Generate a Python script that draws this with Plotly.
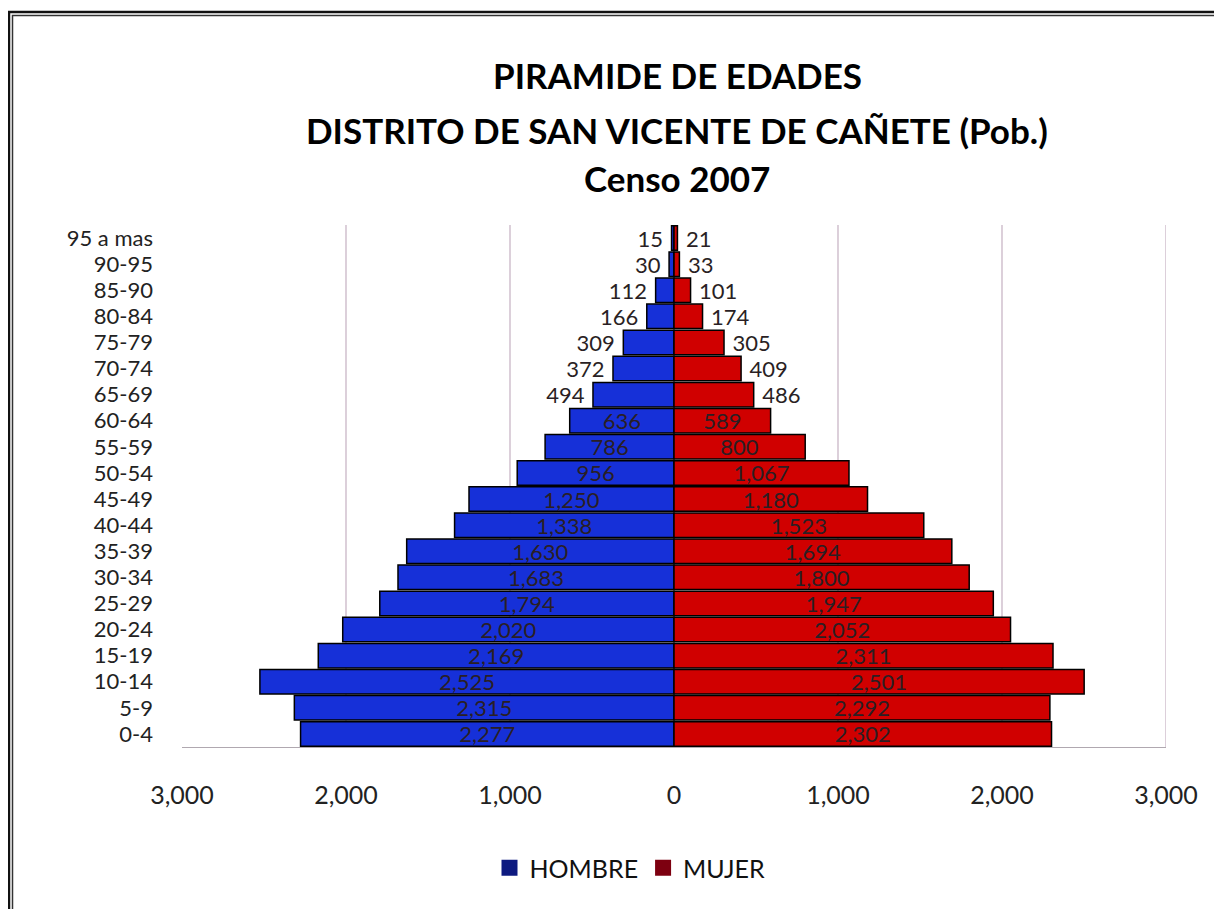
import plotly.graph_objects as go

age_groups = ["0-4", "5-9", "10-14", "15-19", "20-24", "25-29", "30-34", "35-39",
              "40-44", "45-49", "50-54", "55-59", "60-64", "65-69", "70-74", "75-79",
              "80-84", "85-90", "90-95", "95 a mas"]
hombre = [2277, 2315, 2525, 2169, 2020, 1794, 1683, 1630, 1338, 1250, 956, 786,
          636, 494, 372, 309, 166, 112, 30, 15]
mujer = [2302, 2292, 2501, 2311, 2052, 1947, 1800, 1694, 1523, 1180, 1067, 800,
         589, 486, 409, 305, 174, 101, 33, 21]
x_ticks = [-3000, -2000, -1000, 0, 1000, 2000, 3000]
x_ticktext = ["3,000", "2,000", "1,000", "0", "1,000", "2,000", "3,000"]
grid_x = [-2000, -1000, 1000, 2000, 3000]
title_lines = ["PIRAMIDE DE EDADES", "DISTRITO DE SAN VICENTE DE CAÑETE (Pob.)", "Censo 2007"]

FONT = "Lato"
OFF = 8  # page body margin
W, H = 1214, 901
L, R, T, B = 174, 56, 217, 162
pw, ph = W - L - R, H - T - B

def px_x(p):
    return (p - OFF - L) / pw

def px_y(p):
    return (H - B - (p - OFF)) / ph

pos_h = ["inside" if v >= 600 else "outside" for v in hombre]
pos_m = ["inside" if v >= 580 else "outside" for v in mujer]
txt_h = [f"{v:,}" if p == "inside" else f"{v:,}\u2009\u2009" for v, p in zip(hombre, pos_h)]
txt_m = [f"{v:,}" if p == "inside" else f"\u2009\u2009{v:,}" for v, p in zip(mujer, pos_m)]

fig = go.Figure()
fig.add_trace(go.Bar(
    y=age_groups, x=[-v for v in hombre], orientation="h", name="HOMBRE",
    marker=dict(color="#1630d8", line=dict(color="#000000", width=1.5)),
    text=txt_h, textposition=pos_h,
    insidetextanchor="middle", constraintext="none",
    textfont=dict(family=FONT, size=22, color="#2a1f24"),
    showlegend=False, cliponaxis=False,
))
fig.add_trace(go.Bar(
    y=age_groups, x=mujer, orientation="h", name="MUJER",
    marker=dict(color="#d00000", line=dict(color="#000000", width=1.5)),
    text=txt_m, textposition=pos_m,
    insidetextanchor="middle", constraintext="none",
    textfont=dict(family=FONT, size=22, color="#2a1f24"),
    showlegend=False, cliponaxis=False,
))
# legend entries (darker swatches as in the original)
fig.add_trace(go.Scatter(y=[None], x=[None], mode="markers", name="HOMBRE",
                         marker=dict(color="#0d1a80", symbol="square", size=16)))
fig.add_trace(go.Scatter(y=[None], x=[None], mode="markers", name="MUJER",
                         marker=dict(color="#7d0010", symbol="square", size=16)))

shapes = []
for gx in grid_x:
    shapes.append(dict(type="line", xref="x", yref="paper", x0=gx, x1=gx, y0=0, y1=1,
                       line=dict(color="#c9b6c6", width=1.3), layer="below"))
# outer double frame
shapes.append(dict(type="rect", xref="paper", yref="paper",
                   x0=px_x(9), x1=px_x(1260), y0=px_y(960), y1=px_y(12),
                   line=dict(color="#111111", width=2.5)))
shapes.append(dict(type="rect", xref="paper", yref="paper",
                   x0=px_x(12.5), x1=px_x(1260), y0=px_y(960), y1=px_y(15.5),
                   line=dict(color="#333333", width=1.5)))

annotations = []
for txt, ypx in zip(title_lines, [75, 130, 178]):
    annotations.append(dict(text=f"<b>{txt}</b>", xref="paper", yref="paper",
                            x=px_x(677), y=px_y(ypx), xanchor="center", yanchor="middle",
                            showarrow=False, font=dict(family=FONT, size=35, color="#000000")))

fig.update_layout(
    width=W, height=H,
    margin=dict(l=L, r=R, t=T, b=B, autoexpand=False),
    paper_bgcolor="white", plot_bgcolor="white",
    barmode="overlay", bargap=0.06,
    font=dict(family=FONT, size=22, color="#222222"),
    shapes=shapes, annotations=annotations,
    legend=dict(orientation="h", x=px_x(630), y=px_y(868), xanchor="center", yanchor="middle",
                font=dict(family=FONT, size=25, color="#111111"),
                itemwidth=30, traceorder="normal"),
    xaxis=dict(range=[-3000, 3000], tickvals=x_ticks, ticktext=x_ticktext,
               showgrid=False, zeroline=False, showline=True, linecolor="#b0a8b0",
               linewidth=1.3, ticks="", ticklabelstandoff=26,
               tickfont=dict(family=FONT, size=25, color="#222222"), fixedrange=True),
    yaxis=dict(categoryorder="array", categoryarray=age_groups,
               tickmode="array", tickvals=age_groups, ticktext=age_groups,
               showgrid=False, zeroline=False, showline=False, ticks="",
               ticklabelstandoff=28,
               tickfont=dict(family=FONT, size=22, color="#222222"),
               range=[-0.5, len(age_groups) - 0.5]),
)

fig.write_html("out.html")
